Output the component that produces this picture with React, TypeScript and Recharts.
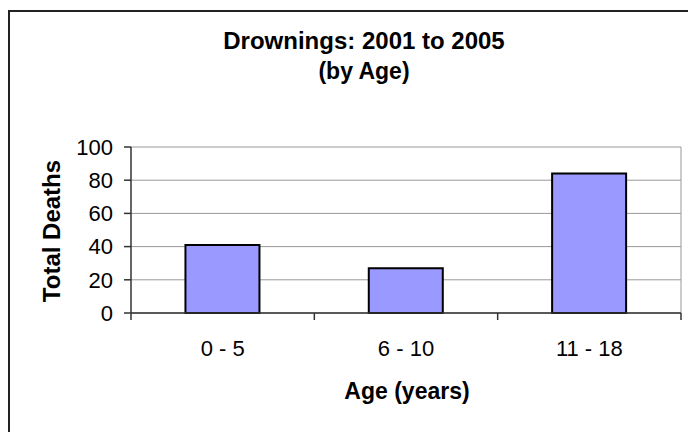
import { BarChart, Bar, XAxis, YAxis, CartesianGrid } from 'recharts'

const ageGroups = ['0 - 5', '6 - 10', '11 - 18']
const totalDeaths = [41, 27, 84]
const yTicks = [0, 20, 40, 60, 80, 100]

const FONT = '"Liberation Sans", Arial, sans-serif'

const data = ageGroups.map((age, i) => ({ age, deaths: totalDeaths[i] }))

// label in the middle of the band, tick marks on the band edges (Excel style)
function AgeTick(props: any) {
  const { x, y, payload, index } = props
  const half = payload.offset ?? 0
  return (
    <g>
      <line x1={x - half} x2={x - half} y1={y} y2={y + 7} stroke="#333" strokeWidth={1.5} />
      {index === ageGroups.length - 1 && (
        <line x1={x + half} x2={x + half} y1={y} y2={y + 7} stroke="#333" strokeWidth={1.5} />
      )}
      <text x={x} y={y + 43} textAnchor="middle" fontSize={22} fill="#000" fontFamily={FONT}>
        {payload.value}
      </text>
    </g>
  )
}

export default function App() {
  return (
    <div style={{ position: 'relative', width: 688, height: 424, background: '#fff' }}>
      <div
        style={{
          position: 'absolute', left: 0, top: 2, width: 688, height: 422,
          borderTop: '2px solid #222', borderLeft: '2px solid #222', boxSizing: 'border-box',
        }}
      />
      <BarChart
        width={688}
        height={424}
        data={data}
        margin={{ top: 139, right: 15, left: 23, bottom: 59 }}
        barCategoryGap="29.7%"
        style={{ position: 'absolute', left: 0, top: 0, fontFamily: FONT }}
      >
        <CartesianGrid
          stroke="#999"
          verticalCoordinatesGenerator={({ offset }: any) => [offset.left + offset.width]}
        />
        <XAxis
          dataKey="age"
          height={60}
          axisLine={{ stroke: '#333', strokeWidth: 1.5 }}
          tickLine={false}
          tickSize={0}
          tickMargin={0}
          tick={<AgeTick />}
          interval={0}
        />
        <YAxis
          width={100}
          domain={[0, 100]}
          ticks={yTicks}
          interval={0}
          axisLine={{ stroke: '#333', strokeWidth: 1.5 }}
          tickLine={{ stroke: '#333', strokeWidth: 1.5 }}
          tickSize={7}
          tickMargin={11}
          tick={{ fontSize: 22, fill: '#000', fontFamily: FONT }}
        />
        <Bar dataKey="deaths" fill="#9999FF" stroke="#000" strokeWidth={2} isAnimationActive={false} />
      </BarChart>
      <svg
        width={688}
        height={424}
        style={{ position: 'absolute', left: 0, top: 0, pointerEvents: 'none' }}
        fontFamily={FONT}
        fontWeight="bold"
      >
        <text x={356} y={41} textAnchor="middle" fontSize={24}>Drownings: 2001 to 2005</text>
        <text x={356} y={71} textAnchor="middle" fontSize={23}>(by Age)</text>
        <text x={399} y={391} textAnchor="middle" fontSize={23}>Age (years)</text>
        <text x={52} y={223} textAnchor="middle" fontSize={24} transform="rotate(-90 52 223)">Total Deaths</text>
      </svg>
    </div>
  )
}
